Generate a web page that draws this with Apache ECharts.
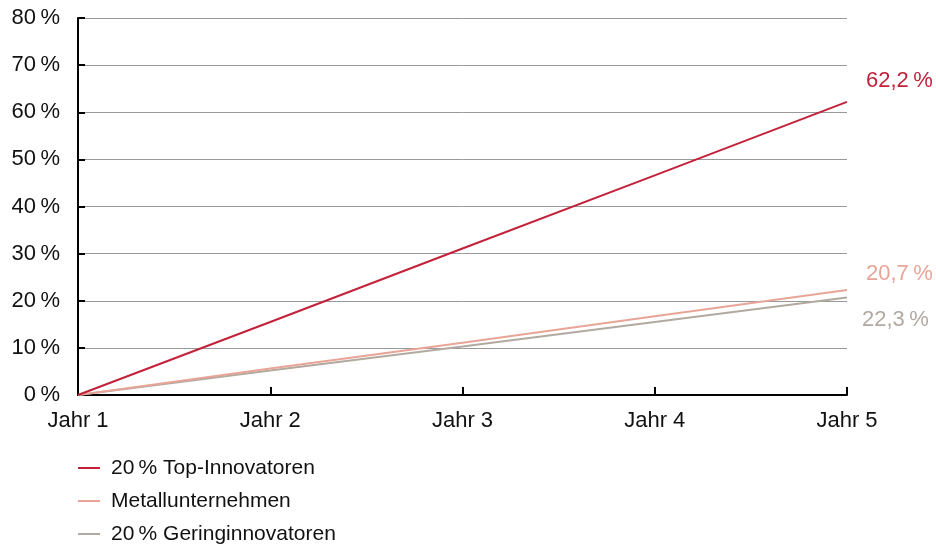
<!DOCTYPE html>
<html>
<head>
<meta charset="utf-8">
<script src="https://cdn.jsdelivr.net/npm/echarts@6/dist/echarts.min.js"></script>
<style>
html,body{margin:0;padding:0;background:#fff;}
#chart{width:936px;height:547px;}
</style>
</head>
<body>
<div id="chart"></div>
<script>
const categories = ['Jahr 1', 'Jahr 2', 'Jahr 3', 'Jahr 4', 'Jahr 5'];
const seriesNames = ['20\u202F% Top-Innovatoren', 'Metallunternehmen', '20\u202F% Geringinnovatoren'];
const topInnovatoren = [0, 15.5, 31.1, 46.6, 62.2];
const metallunternehmen = [0, 5.6, 11.1, 16.7, 22.3];
const geringinnovatoren = [0, 5.2, 10.3, 15.5, 20.7];
const endLabels = ['62,2\u202F%', '20,7\u202F%', '22,3\u202F%'];
const yTicks = [0, 10, 20, 30, 40, 50, 60, 70, 80];

const colors = ['#c3213a', '#e8a597', '#b2a9a1'];
const labelOffsets = [[11, -21], [11, -16], [7, 22]];
const legendTops = [457, 490, 523];
const font = 'Liberation Sans, Arial, Helvetica, sans-serif';

const chart = echarts.init(document.getElementById('chart'));
const dataSets = [topInnovatoren, metallunternehmen, geringinnovatoren];

chart.setOption({
  animation: false,
  grid: { left: 78, right: 89, top: 18, bottom: 152, containLabel: false },
  legend: seriesNames.map((n, i) => ({
    orient: 'vertical',
    left: 78,
    top: legendTops[i],
    padding: 0,
    icon: 'rect',
    itemWidth: 22,
    itemHeight: 2,
    data: [n],
    textStyle: { fontFamily: font, fontSize: 21, color: '#111', lineHeight: 22, padding: [0, 0, 0, 6] }
  })),
  xAxis: {
    type: 'category',
    data: categories,
    boundaryGap: false,
    axisLine: { lineStyle: { color: '#000', width: 2 } },
    axisTick: { inside: true, length: 8, lineStyle: { color: '#000', width: 2 } },
    axisLabel: { fontFamily: font, fontSize: 22, color: '#111', margin: 15 },
    splitLine: { show: false }
  },
  yAxis: {
    type: 'value',
    min: 0,
    max: 80,
    interval: 10,
    axisLine: { show: true, lineStyle: { color: '#000', width: 2 } },
    axisTick: { show: true, inside: true, length: 7, lineStyle: { color: '#000', width: 2 } },
    axisLabel: { fontFamily: font, fontSize: 22, color: '#111', margin: 18,
      formatter: v => v + '\u202F%' },
    splitLine: { lineStyle: { color: '#999', width: 1 } }
  },
  series: dataSets.map((d, i) => ({
    name: seriesNames[i],
    type: 'line',
    data: d,
    symbol: 'none',
    z: 10 - i,
    lineStyle: { color: colors[i], width: 2 },
    itemStyle: { color: colors[i] },
    endLabel: {
      show: true,
      formatter: () => endLabels[i],
      fontFamily: font,
      fontSize: 22,
      color: colors[i],
      offset: labelOffsets[i]
    }
  }))
});
</script>
</body>
</html>
